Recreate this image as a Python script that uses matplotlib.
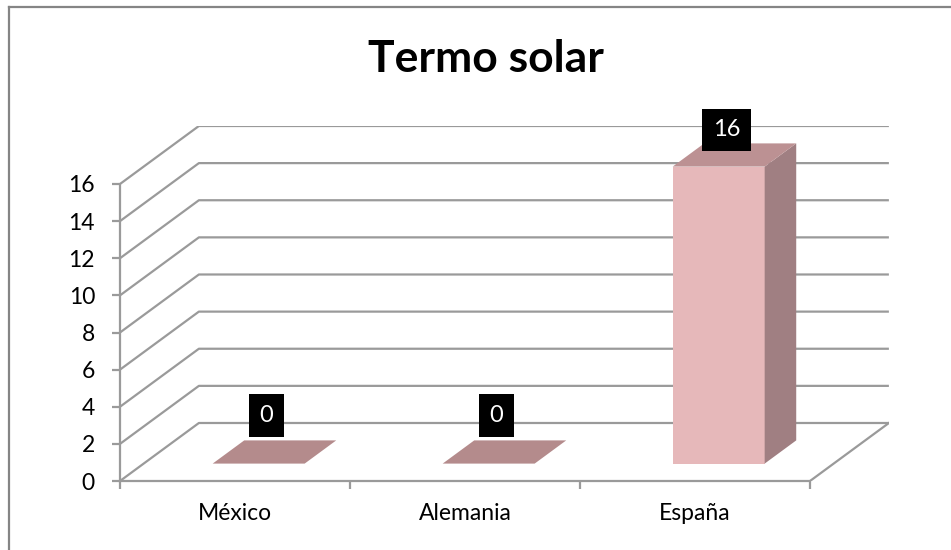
import numpy as np
import matplotlib.pyplot as plt
from matplotlib.patches import Polygon
from matplotlib.lines import Line2D

# Data
categories = ['México', 'Alemania', 'España']
values = [0, 0, 16]
title = 'Termo solar'
y_ticks = list(range(0, 17, 2))

# Pseudo-3D geometry (data units)
DX = 0.343      # depth offset along x (categories)
DY = 3.125      # depth offset along y (values)
BAR_W = 0.4
F0, F1 = 0.3, 0.7   # bar depth span as fraction of the floor depth

FRONT = '#e6b8ba'
SIDE = '#a07f82'
TOP = '#bc9193'
FLAT = '#b48b8c'
GRID = '#9a9a9a'

plt.rcParams['font.family'] = ['Lato', 'DejaVu Sans']

W, H = 951, 550
fig = plt.figure(figsize=(W / 100, H / 100), dpi=100)
fig.patch.set_facecolor('white')

# axes placed so the front plane spans x 120..810 and y 0 sits at 481 px
x0_px, x1_px = 120, 120 + (3 + DX) * 230
y0_px, ppu = 481, 297 / 16
ymax = 16 + DY
ax = fig.add_axes([x0_px / W, (H - y0_px) / H, (x1_px - x0_px) / W, ymax * ppu / H])
ax.set_xlim(0, 3 + DX)
ax.set_ylim(0, ymax)
ax.patch.set_visible(False)

# gridlines: diagonal on the side wall, then flat along the back wall
for v in y_ticks:
    ax.plot([0, DX, 3 + DX], [v, v + DY, v + DY], color=GRID, lw=1.6,
            solid_capstyle='butt', zorder=1)
# right edge of the floor
ax.plot([3, 3 + DX], [0, DY], color=GRID, lw=1.6, zorder=1)

for s in ['top', 'right']:
    ax.spines[s].set_visible(False)
for s in ['left', 'bottom']:
    ax.spines[s].set_color(GRID)
    ax.spines[s].set_linewidth(1.6)
ax.spines['left'].set_bounds(0, 16)
ax.spines['bottom'].set_bounds(0, 3)

ax.set_yticks(y_ticks)
ax.tick_params(axis='y', length=6, width=1.6, color=GRID, pad=12,
               labelsize=16.5, labelcolor='black')
ax.set_xticks([0, 1, 2, 3])
ax.set_xticklabels([])
ax.tick_params(axis='x', which='major', length=6, width=1.6, color=GRID)
ax.set_xticks([0.5, 1.5, 2.5], minor=True)
ax.set_xticklabels(categories, minor=True)
ax.tick_params(axis='x', which='minor', length=0, pad=16, labelsize=16.5,
               labelcolor='black')

# bars
for i, v in enumerate(values):
    xa = i + (1 - BAR_W) / 2
    xb = xa + BAR_W
    fx0, fy0 = F0 * DX, F0 * DY
    fx1, fy1 = F1 * DX, F1 * DY
    top = [(xa + fx0, v + fy0), (xb + fx0, v + fy0),
           (xb + fx1, v + fy1), (xa + fx1, v + fy1)]
    if v > 0:
        front = [(xa + fx0, fy0), (xb + fx0, fy0),
                 (xb + fx0, v + fy0), (xa + fx0, v + fy0)]
        side = [(xb + fx0, fy0), (xb + fx1, fy1),
                (xb + fx1, v + fy1), (xb + fx0, v + fy0)]
        ax.add_patch(Polygon(front, closed=True, fc=FRONT, ec='none', zorder=3))
        ax.add_patch(Polygon(side, closed=True, fc=SIDE, ec='none', zorder=3))
        ax.add_patch(Polygon(top, closed=True, fc=TOP, ec='none', zorder=3))
    else:
        ax.add_patch(Polygon(top, closed=True, fc=FLAT, ec='none', zorder=3))

    # value label in a black box above the bar
    lift = 0.75 if v > 0 else 0.95
    ax.text(i + 0.5 + 0.4 * DX, v + lift * DY, str(v), color='white',
            fontsize=17, ha='center', va='bottom', zorder=5,
            bbox=dict(boxstyle='square,pad=0.45', fc='black', ec='none'))

fig.text(486 / W, 1 - 72 / H, title, fontsize=32, fontweight='bold',
         ha='center', va='baseline')

# chart area border (top and left edges)
fig.add_artist(Line2D([9 / W, 9 / W], [0, 1 - 7 / H], transform=fig.transFigure,
                      color='#858585', lw=1.6))
fig.add_artist(Line2D([9 / W, 1], [1 - 7 / H, 1 - 7 / H], transform=fig.transFigure,
                      color='#858585', lw=1.6))

fig.savefig('out.png', dpi=100)
